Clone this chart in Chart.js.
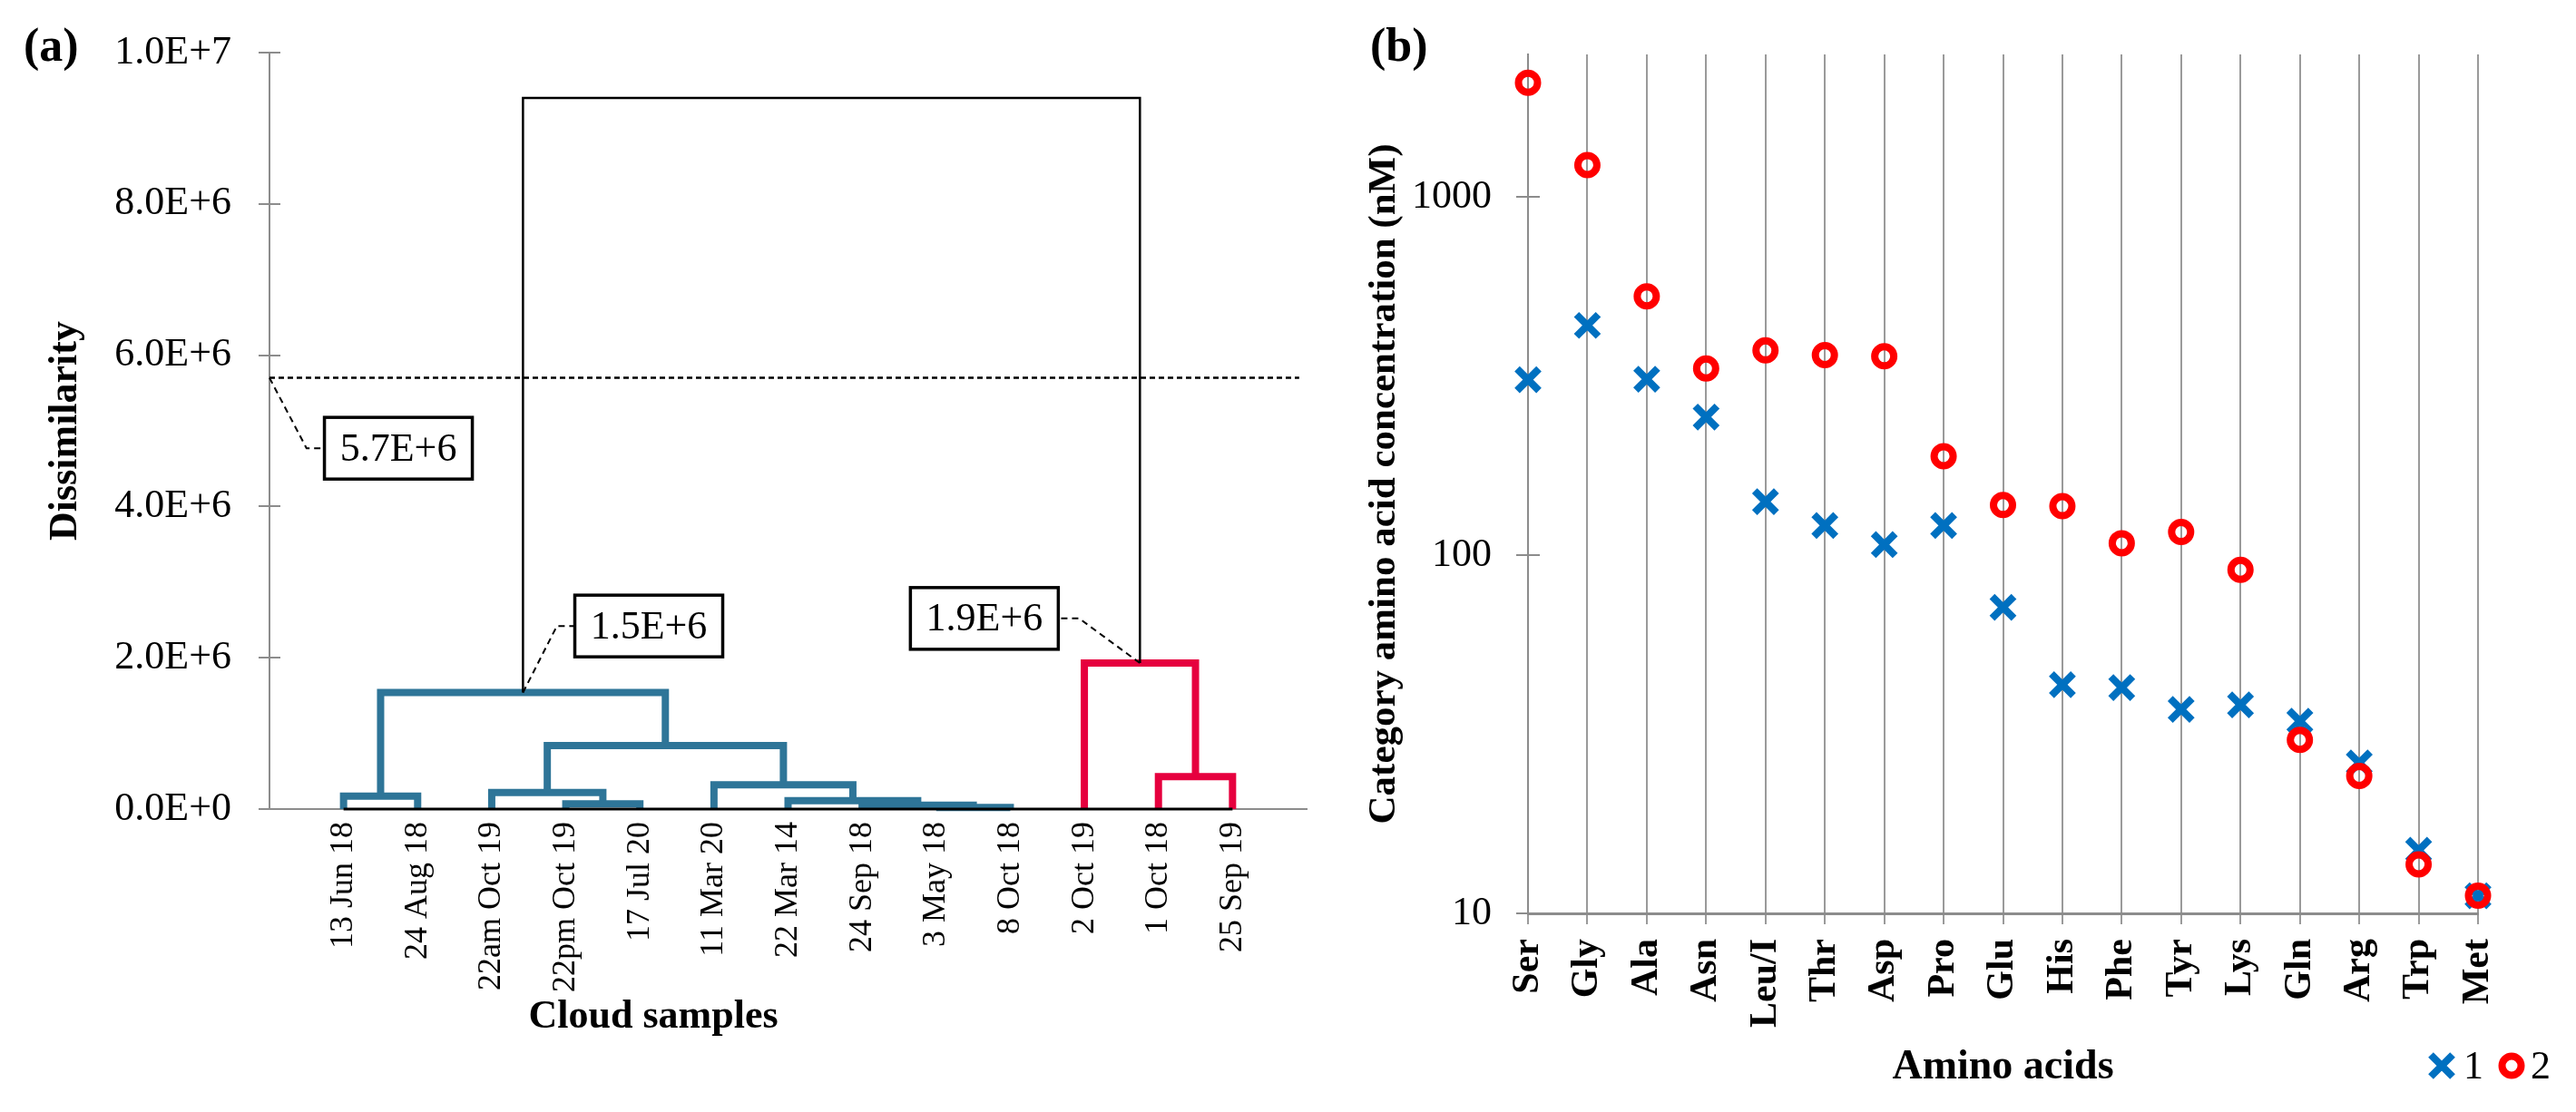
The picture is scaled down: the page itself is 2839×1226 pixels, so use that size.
<!DOCTYPE html>
<html>
<head>
<meta charset="utf-8">
<script src="https://cdn.jsdelivr.net/npm/chart.js@4.4.1/dist/chart.umd.min.js"></script>
<style>
  html, body { margin: 0; padding: 0; background: #fff; }
  #pagina { position: relative; width: 2839px; height: 1226px; overflow: hidden; background: #fff; }
  canvas { position: absolute; top: 0; }
  #graficaA { left: 0; }
  #graficaB { left: 1480px; }
  .panel { position: absolute; top: 20px; line-height: 52px; font: bold 52px 'Liberation Serif', 'Times New Roman', serif; }
</style>
</head>
<body>
<div id="pagina">
  <canvas id="graficaA" width="1480" height="1226"></canvas>
  <canvas id="graficaB" width="1359" height="1226"></canvas>
  <div class="panel" style="left:26px">(a)</div>
  <div class="panel" style="left:1510px">(b)</div>
</div>
<script>
// ---- (a) dendrograma ----
const muestras = ['13 Jun 18', '24 Aug 18', '22am Oct 19', '22pm Oct 19', '17 Jul 20', '11 Mar 20',
  '22 Mar 14', '24 Sep 18', '3 May 18', '8 Oct 18', '2 Oct 19', '1 Oct 18', '25 Sep 19'];
// [nodo izq, nodo der, disimilitud]; nodos 0-12 = muestras, 13+ = uniones en orden
const uniones = [
  [8, 9, 0.02e6],
  [7, 13, 0.05e6],
  [3, 4, 0.07e6],
  [6, 14, 0.11e6],
  [0, 1, 0.17e6],
  [2, 15, 0.22e6],
  [5, 16, 0.32e6],
  [18, 19, 0.84e6],
  [17, 20, 1.54e6],
  [11, 12, 0.43e6],
  [10, 22, 1.93e6],
  [21, 23, 9.4e6]
];
const grupoUnion = ['azul', 'azul', 'azul', 'azul', 'azul', 'azul', 'azul', 'azul', 'azul', 'rojo', 'rojo', 'raiz'];
const corte = 5.7e6;
const ticksA = [0, 2e6, 4e6, 6e6, 8e6, 1e7];

// ---- (b) aminoacidos ----
const aminoacidos = ['Ser', 'Gly', 'Ala', 'Asn', 'Leu/I', 'Thr', 'Asp', 'Pro', 'Glu', 'His', 'Phe', 'Tyr', 'Lys', 'Gln', 'Arg', 'Trp', 'Met'];
const categoria1 = [309, 438, 310, 243, 141, 121, 107, 121, 71.5, 43.5, 42.7, 37.1, 38.2, 34.4, 26.3, 15.0, 11.2];
const categoria2 = [2085, 1228, 528, 332, 373, 362, 359, 189, 138, 137, 108, 116, 91, 30.5, 24.2, 13.7, 11.2];
const ticksB = [10, 100, 1000];

const FUENTE = "'Liberation Serif', 'Times New Roman', serif";
const GRIS = '#8c8c8c';
Chart.defaults.font.family = FUENTE;
Chart.defaults.color = '#000';

function fmtExp(v) {
    return Number(v).toExponential(1).toUpperCase();
}

// posiciones de los nodos (hojas en 1..13, uniones en el punto medio)
const posX = muestras.map((m, i) => i + 1);
const alturaNodo = muestras.map(() => 0);
uniones.forEach(([a, b, h]) => {
    posX.push((posX[a] + posX[b]) / 2);
    alturaNodo.push(h);
});

function trazos(grupo) {
    const pts = [];
    uniones.forEach(([a, b, h], k) => {
        if (grupoUnion[k] !== grupo) return;
        pts.push({ x: posX[a], y: alturaNodo[a] }, { x: posX[a], y: h },
                 { x: posX[b], y: h }, { x: posX[b], y: alturaNodo[b] }, { x: posX[b], y: null });
    });
    return pts;
}

const raizAzul = 13 + 8, raizRoja = 13 + 10;
const notas = [
    { valor: corte, ancla: [0, corte], codoX: 0.5, caja: [1.74, 4.77e6] },
    { valor: alturaNodo[raizAzul], ancla: [posX[raizAzul], alturaNodo[raizAzul]], codoX: 3.88, caja: [5.12, 2.42e6] },
    { valor: alturaNodo[raizRoja], ancla: [posX[raizRoja], alturaNodo[raizRoja]], codoX: 10.93, caja: [9.65, 2.52e6] }
];

const marcasInternas = {
    id: 'marcasInternas',
    beforeDatasetsDraw(chart, args, opts) {
        const y = chart.scales.y;
        const ctx = chart.ctx;
        ctx.save();
        ctx.strokeStyle = opts.color;
        ctx.lineWidth = opts.width;
        y.ticks.forEach(t => {
            const py = Math.round(y.getPixelForValue(t.value));
            ctx.beginPath();
            ctx.moveTo(y.right, py);
            ctx.lineTo(y.right + opts.len, py);
            ctx.stroke();
        });
        ctx.restore();
    }
};

const notasCajas = {
    id: 'notasCajas',
    afterDatasetsDraw(chart) {
        const { ctx, scales: { x, y } } = chart;
        const w = 163, h = 68;
        ctx.save();
        notas.forEach(n => {
            const ax = x.getPixelForValue(n.ancla[0]), ay = y.getPixelForValue(n.ancla[1]);
            const cx = x.getPixelForValue(n.caja[0]), cy = y.getPixelForValue(n.caja[1]);
            const kx = x.getPixelForValue(n.codoX);
            const borde = kx < cx ? cx - w / 2 : cx + w / 2;
            ctx.strokeStyle = '#000';
            ctx.lineWidth = 2;
            ctx.setLineDash([7, 5]);
            ctx.beginPath();
            ctx.moveTo(ax, ay);
            ctx.lineTo(kx, cy);
            ctx.lineTo(borde, cy);
            ctx.stroke();
            ctx.setLineDash([]);
            ctx.fillStyle = '#fff';
            ctx.fillRect(cx - w / 2, cy - h / 2, w, h);
            ctx.lineWidth = 3.5;
            ctx.strokeRect(cx - w / 2, cy - h / 2, w, h);
            ctx.fillStyle = '#000';
            ctx.font = '44px ' + FUENTE;
            ctx.textAlign = 'center';
            ctx.textBaseline = 'middle';
            ctx.fillText(fmtExp(n.valor), cx, cy + 2);
        });
        ctx.font = 'bold 44px ' + FUENTE;
        ctx.textAlign = 'center';
        ctx.textBaseline = 'middle';
        ctx.fillText('Cloud samples', chart.chartArea.right / 2, 1122);
        ctx.restore();
    }
};

function crearDendrograma() {
    const ctx = document.getElementById('graficaA');
    new Chart(ctx, {
        type: 'scatter',
        data: {
            datasets: [
                { label: 'base', data: [{ x: 1, y: 0 }, { x: muestras.length, y: 0 }], borderColor: '#000', borderWidth: 3, order: 0 },
                { label: 'corte', data: [{ x: 0, y: corte }, { x: 13.9, y: corte }], borderColor: '#000', borderWidth: 2.5, borderDash: [6, 4], order: 1 },
                { label: 'raiz', data: trazos('raiz'), borderColor: '#000', borderWidth: 2.5, order: 2 },
                { label: 'grupo 2', data: trazos('rojo'), borderColor: '#E6003E', borderWidth: 8, order: 3 },
                { label: 'grupo 1', data: trazos('azul'), borderColor: '#2E7598', borderWidth: 8, order: 4 }
            ].map(d => Object.assign({ showLine: true, pointRadius: 0, spanGaps: false, clip: false, fill: false }, d))
        },
        options: {
            responsive: false,
            devicePixelRatio: 1,
            animation: false,
            events: [],
            layout: { padding: { left: 0, top: 58, right: 40, bottom: 0 } },
            plugins: {
                legend: { display: false },
                tooltip: { enabled: false },
                marcasInternas: { color: GRIS, width: 2, len: 12 }
            },
            scales: {
                x: {
                    type: 'linear', min: 0, max: 14,
                    afterBuildTicks: s => { s.ticks = posX.slice(0, muestras.length).map(v => ({ value: v })); },
                    afterFit: s => { s.height = 334; },
                    grid: { display: false, drawTicks: false },
                    border: { display: true, color: GRIS, width: 2 },
                    ticks: {
                        autoSkip: false, minRotation: 90, maxRotation: 90, padding: 14,
                        font: { size: 36 },
                        callback: (v, i) => muestras[i]
                    }
                },
                y: {
                    min: 0, max: 1e7,
                    afterBuildTicks: s => { s.ticks = ticksA.map(v => ({ value: v })); },
                    afterFit: s => { s.width = 297; },
                    grid: { drawOnChartArea: false, color: GRIS, lineWidth: 2, tickLength: 12 },
                    border: { display: true, color: GRIS, width: 2 },
                    ticks: { padding: 30, font: { size: 44 }, callback: v => fmtExp(v) },
                    title: { display: true, text: 'Dissimilarity', font: { size: 44, weight: 'bold' }, padding: { top: 46, bottom: 0 } }
                }
            }
        },
        plugins: [marcasInternas, notasCajas]
    });
}

const leyendaB = {
    id: 'leyendaB',
    afterDraw(chart) {
        const ctx = chart.ctx;
        const r = chart.chartArea.right;
        const y = 1175;
        ctx.save();
        // serie 1: aspa
        ctx.strokeStyle = '#0070C0';
        ctx.lineWidth = 8;
        const d = 17 * Math.SQRT1_2;
        ctx.beginPath();
        ctx.moveTo(r - 40 - d, y - d); ctx.lineTo(r - 40 + d, y + d);
        ctx.moveTo(r - 40 - d, y + d); ctx.lineTo(r - 40 + d, y - d);
        ctx.stroke();
        // serie 2: circulo
        ctx.strokeStyle = '#FF0000';
        ctx.lineWidth = 8;
        ctx.beginPath();
        ctx.arc(r + 37, y, 10.5, 0, Math.PI * 2);
        ctx.stroke();
        ctx.fillStyle = '#000';
        ctx.font = '44px ' + FUENTE;
        ctx.textAlign = 'center';
        ctx.textBaseline = 'middle';
        ctx.fillText(chart.data.datasets[0].label, r - 5, y + 2);
        ctx.fillText(chart.data.datasets[1].label, r + 69, y + 2);
        ctx.restore();
    }
};

function crearGraficaAminoacidos() {
    const ctx = document.getElementById('graficaB');
    new Chart(ctx, {
        type: 'line',
        data: {
            labels: aminoacidos,
            datasets: [
                {
                    label: '1', data: categoria1, showLine: false, order: 2,
                    pointStyle: 'crossRot', pointRadius: 17, pointBorderWidth: 8,
                    pointBorderColor: '#0070C0', pointBackgroundColor: '#0070C0'
                },
                {
                    label: '2', data: categoria2, showLine: false, order: 1,
                    pointStyle: 'circle', pointRadius: 10.5, pointBorderWidth: 8,
                    pointBorderColor: '#FF0000', pointBackgroundColor: 'rgba(0,0,0,0)'
                }
            ]
        },
        options: {
            responsive: false,
            devicePixelRatio: 1,
            animation: false,
            events: [],
            layout: { padding: { left: 0, top: 60, right: 108, bottom: 0 } },
            plugins: {
                legend: { display: false },
                tooltip: { enabled: false },
                marcasInternas: { color: GRIS, width: 2, len: 13 }
            },
            scales: {
                x: {
                    type: 'category', offset: false,
                    afterFit: s => { s.height = 219; },
                    grid: { color: '#9a9a9a', lineWidth: 2, tickLength: 12 },
                    border: { display: true, color: GRIS, width: 3 },
                    ticks: { autoSkip: false, minRotation: 90, maxRotation: 90, padding: 16, font: { size: 42, weight: 'bold' } },
                    title: { display: true, text: 'Amino acids', font: { size: 46, weight: 'bold' }, padding: { top: 0, bottom: 21 } }
                },
                y: {
                    type: 'logarithmic', min: 10, max: 2500,
                    afterBuildTicks: s => { s.ticks = ticksB.map(v => ({ value: v })); },
                    afterFit: s => { s.width = 204; },
                    grid: { drawOnChartArea: false, color: GRIS, lineWidth: 2, tickLength: 13 },
                    border: { display: true, color: GRIS, width: 2 },
                    ticks: { padding: 27, font: { size: 44 }, callback: v => String(v) },
                    title: { display: true, text: 'Category amino acid concentration (nM)', font: { size: 43, weight: 'bold' }, padding: { top: 20, bottom: 0 } }
                }
            }
        },
        plugins: [marcasInternas, leyendaB]
    });
}

document.addEventListener('DOMContentLoaded', () => {
    crearDendrograma();
    crearGraficaAminoacidos();
});
</script>
</body>
</html>
